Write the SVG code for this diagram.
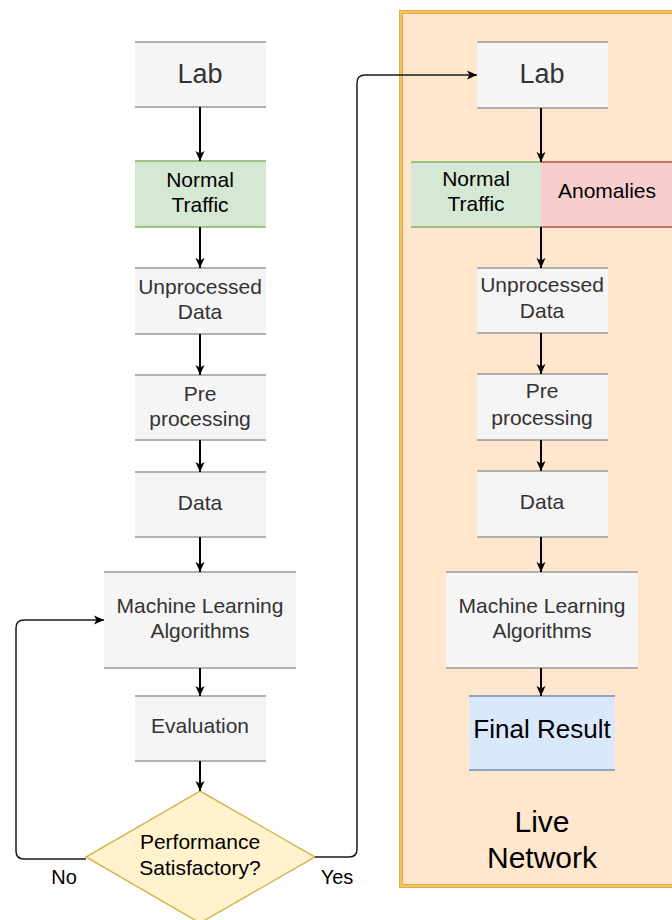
<svg xmlns="http://www.w3.org/2000/svg" width="672" height="920" viewBox="0 0 672 920">
<style>
  text { font-family: "Liberation Sans", Arial, sans-serif; text-anchor: middle; }
  .g { fill: #f5f5f5; }
  .gl { stroke: #999999; stroke-width: 1.5; fill: none; }
  .t { font-size: 21px; fill: #333333; }
  .tb { font-size: 21px; fill: #000000; }
  .big { font-size: 27px; fill: #333333; }
  .c { stroke: #000000; stroke-width: 2; fill: none; }
  .c2 { stroke: #1a1a1a; stroke-width: 1.5; fill: none; }
</style>
<defs>
  <marker id="ah" markerUnits="userSpaceOnUse" markerWidth="12" markerHeight="12" viewBox="0 0 12 12" refX="11" refY="6" orient="auto">
    <path d="M1,1.5 L11,6 L1,10.5 L3.5,6 Z" fill="#000000"/>
  </marker>
</defs>
<rect width="672" height="920" fill="#ffffff"/>

<g id="live-network">
  <rect x="401" y="12" width="290" height="874" fill="#ffe6cc" stroke="#e8ae3a" stroke-width="4"/>
  <rect x="401" y="12" width="290" height="874" fill="none" stroke="#fbd694" stroke-width="1"/>
  <text x="542" y="832" style="font-size:30px;fill:#000">Live</text>
  <text x="542" y="868" style="font-size:30px;fill:#000">Network</text>
</g>

<g id="lab-left">
  <rect class="g" x="135" y="42" width="131" height="65"/>
  <path class="gl" d="M135,42 H266 M135,107 H266"/>
  <text class="big" x="200" y="83">Lab</text>
</g>
<g id="normal-left">
  <rect x="135" y="161" width="131" height="66" fill="#d5e8d4"/>
  <path d="M135,161 H266 M135,227 H266" stroke="#82b366" stroke-width="1.5"/>
  <text class="tb" x="200" y="187">Normal</text>
  <text class="tb" x="200" y="212">Traffic</text>
</g>
<g id="unprocessed-left">
  <rect class="g" x="135" y="268" width="131" height="66"/>
  <path class="gl" d="M135,268 H266 M135,334 H266"/>
  <text class="t" x="200" y="294">Unprocessed</text>
  <text class="t" x="200" y="319">Data</text>
</g>
<g id="pre-left">
  <rect class="g" x="135" y="375" width="131" height="65"/>
  <path class="gl" d="M135,375 H266 M135,440 H266"/>
  <text class="t" x="200" y="401">Pre</text>
  <text class="t" x="200" y="426">processing</text>
</g>
<g id="data-left">
  <rect class="g" x="135" y="472" width="131" height="65"/>
  <path class="gl" d="M135,472 H266 M135,537 H266"/>
  <text class="t" x="200" y="510">Data</text>
</g>
<g id="ml-left">
  <rect class="g" x="104" y="572" width="192" height="96"/>
  <path class="gl" d="M104,572 H296 M104,668 H296"/>
  <text class="t" x="200" y="613">Machine Learning</text>
  <text class="t" x="200" y="638">Algorithms</text>
</g>
<g id="eval-left">
  <rect class="g" x="135" y="696" width="131" height="65"/>
  <path class="gl" d="M135,696 H266 M135,761 H266"/>
  <text class="t" x="200" y="733">Evaluation</text>
</g>
<g id="decision">
  <polygon points="200,791 315,857 200,923 86,857" fill="#fff2cc" stroke="#d6b656" stroke-width="1.5"/>
  <text class="tb" x="200" y="849">Performance</text>
  <text class="tb" x="200" y="875">Satisfactory?</text>
</g>

<g id="lab-right">
  <rect class="g" x="477" y="42" width="131" height="66"/>
  <path class="gl" d="M477,42 H608 M477,108 H608"/>
  <text class="big" x="542" y="83">Lab</text>
</g>
<g id="normal-right">
  <rect x="411" y="162" width="130" height="65" fill="#d5e8d4"/>
  <path d="M411,162 H541 M411,227 H541" stroke="#82b366" stroke-width="1.5"/>
  <text class="tb" x="476" y="186">Normal</text>
  <text class="tb" x="476" y="211">Traffic</text>
</g>
<g id="anomalies-right">
  <rect x="541" y="162" width="140" height="65" fill="#f8cecc"/>
  <path d="M541,162 H681 M541,227 H681" stroke="#b85450" stroke-width="1.5"/>
  <text class="tb" x="607" y="198">Anomalies</text>
</g>
<g id="unprocessed-right">
  <rect class="g" x="477" y="268" width="131" height="65"/>
  <path class="gl" d="M477,268 H608 M477,333 H608"/>
  <text class="t" x="542" y="292">Unprocessed</text>
  <text class="t" x="542" y="318">Data</text>
</g>
<g id="pre-right">
  <rect class="g" x="477" y="374" width="131" height="66"/>
  <path class="gl" d="M477,374 H608 M477,440 H608"/>
  <text class="t" x="542" y="398">Pre</text>
  <text class="t" x="542" y="425">processing</text>
</g>
<g id="data-right">
  <rect class="g" x="477" y="471" width="131" height="66"/>
  <path class="gl" d="M477,471 H608 M477,537 H608"/>
  <text class="t" x="542" y="509">Data</text>
</g>
<g id="ml-right">
  <rect class="g" x="446" y="572" width="192" height="96"/>
  <path class="gl" d="M446,572 H638 M446,668 H638"/>
  <text class="t" x="542" y="613">Machine Learning</text>
  <text class="t" x="542" y="638">Algorithms</text>
</g>
<g id="final-right">
  <rect x="469" y="696" width="146" height="74" fill="#dae8fc"/>
  <path d="M469,696 H615 M469,770 H615" stroke="#6c8ebf" stroke-width="1.5"/>
  <text x="542" y="738" style="font-size:26px;fill:#000">Final Result</text>
</g>

<g id="connectors">
  <path class="c" marker-end="url(#ah)" d="M200,107 V161"/>
  <path class="c" marker-end="url(#ah)" d="M200,227 V268"/>
  <path class="c" marker-end="url(#ah)" d="M200,334 V375"/>
  <path class="c" marker-end="url(#ah)" d="M200,440 V472"/>
  <path class="c" marker-end="url(#ah)" d="M200,537 V572"/>
  <path class="c" marker-end="url(#ah)" d="M200,668 V696"/>
  <path class="c" marker-end="url(#ah)" d="M200,761 V791"/>
  <path class="c" marker-end="url(#ah)" d="M541,108 V162"/>
  <path class="c" marker-end="url(#ah)" d="M541,227 V268"/>
  <path class="c" marker-end="url(#ah)" d="M541,333 V374"/>
  <path class="c" marker-end="url(#ah)" d="M541,440 V471"/>
  <path class="c" marker-end="url(#ah)" d="M541,537 V572"/>
  <path class="c" marker-end="url(#ah)" d="M541,668 V696"/>
  <path class="c2" marker-end="url(#ah)" d="M86,859 H24 Q16,859 16,851 V628 Q16,620 24,620 H104"/>
  <path class="c2" marker-end="url(#ah)" d="M315,857 H349 Q357,857 357,849 V83 Q357,75 365,75 H477"/>
  <text x="64" y="884" style="font-size:20px;fill:#000">No</text>
  <text x="337" y="884" style="font-size:20px;fill:#000">Yes</text>
</g>
</svg>
